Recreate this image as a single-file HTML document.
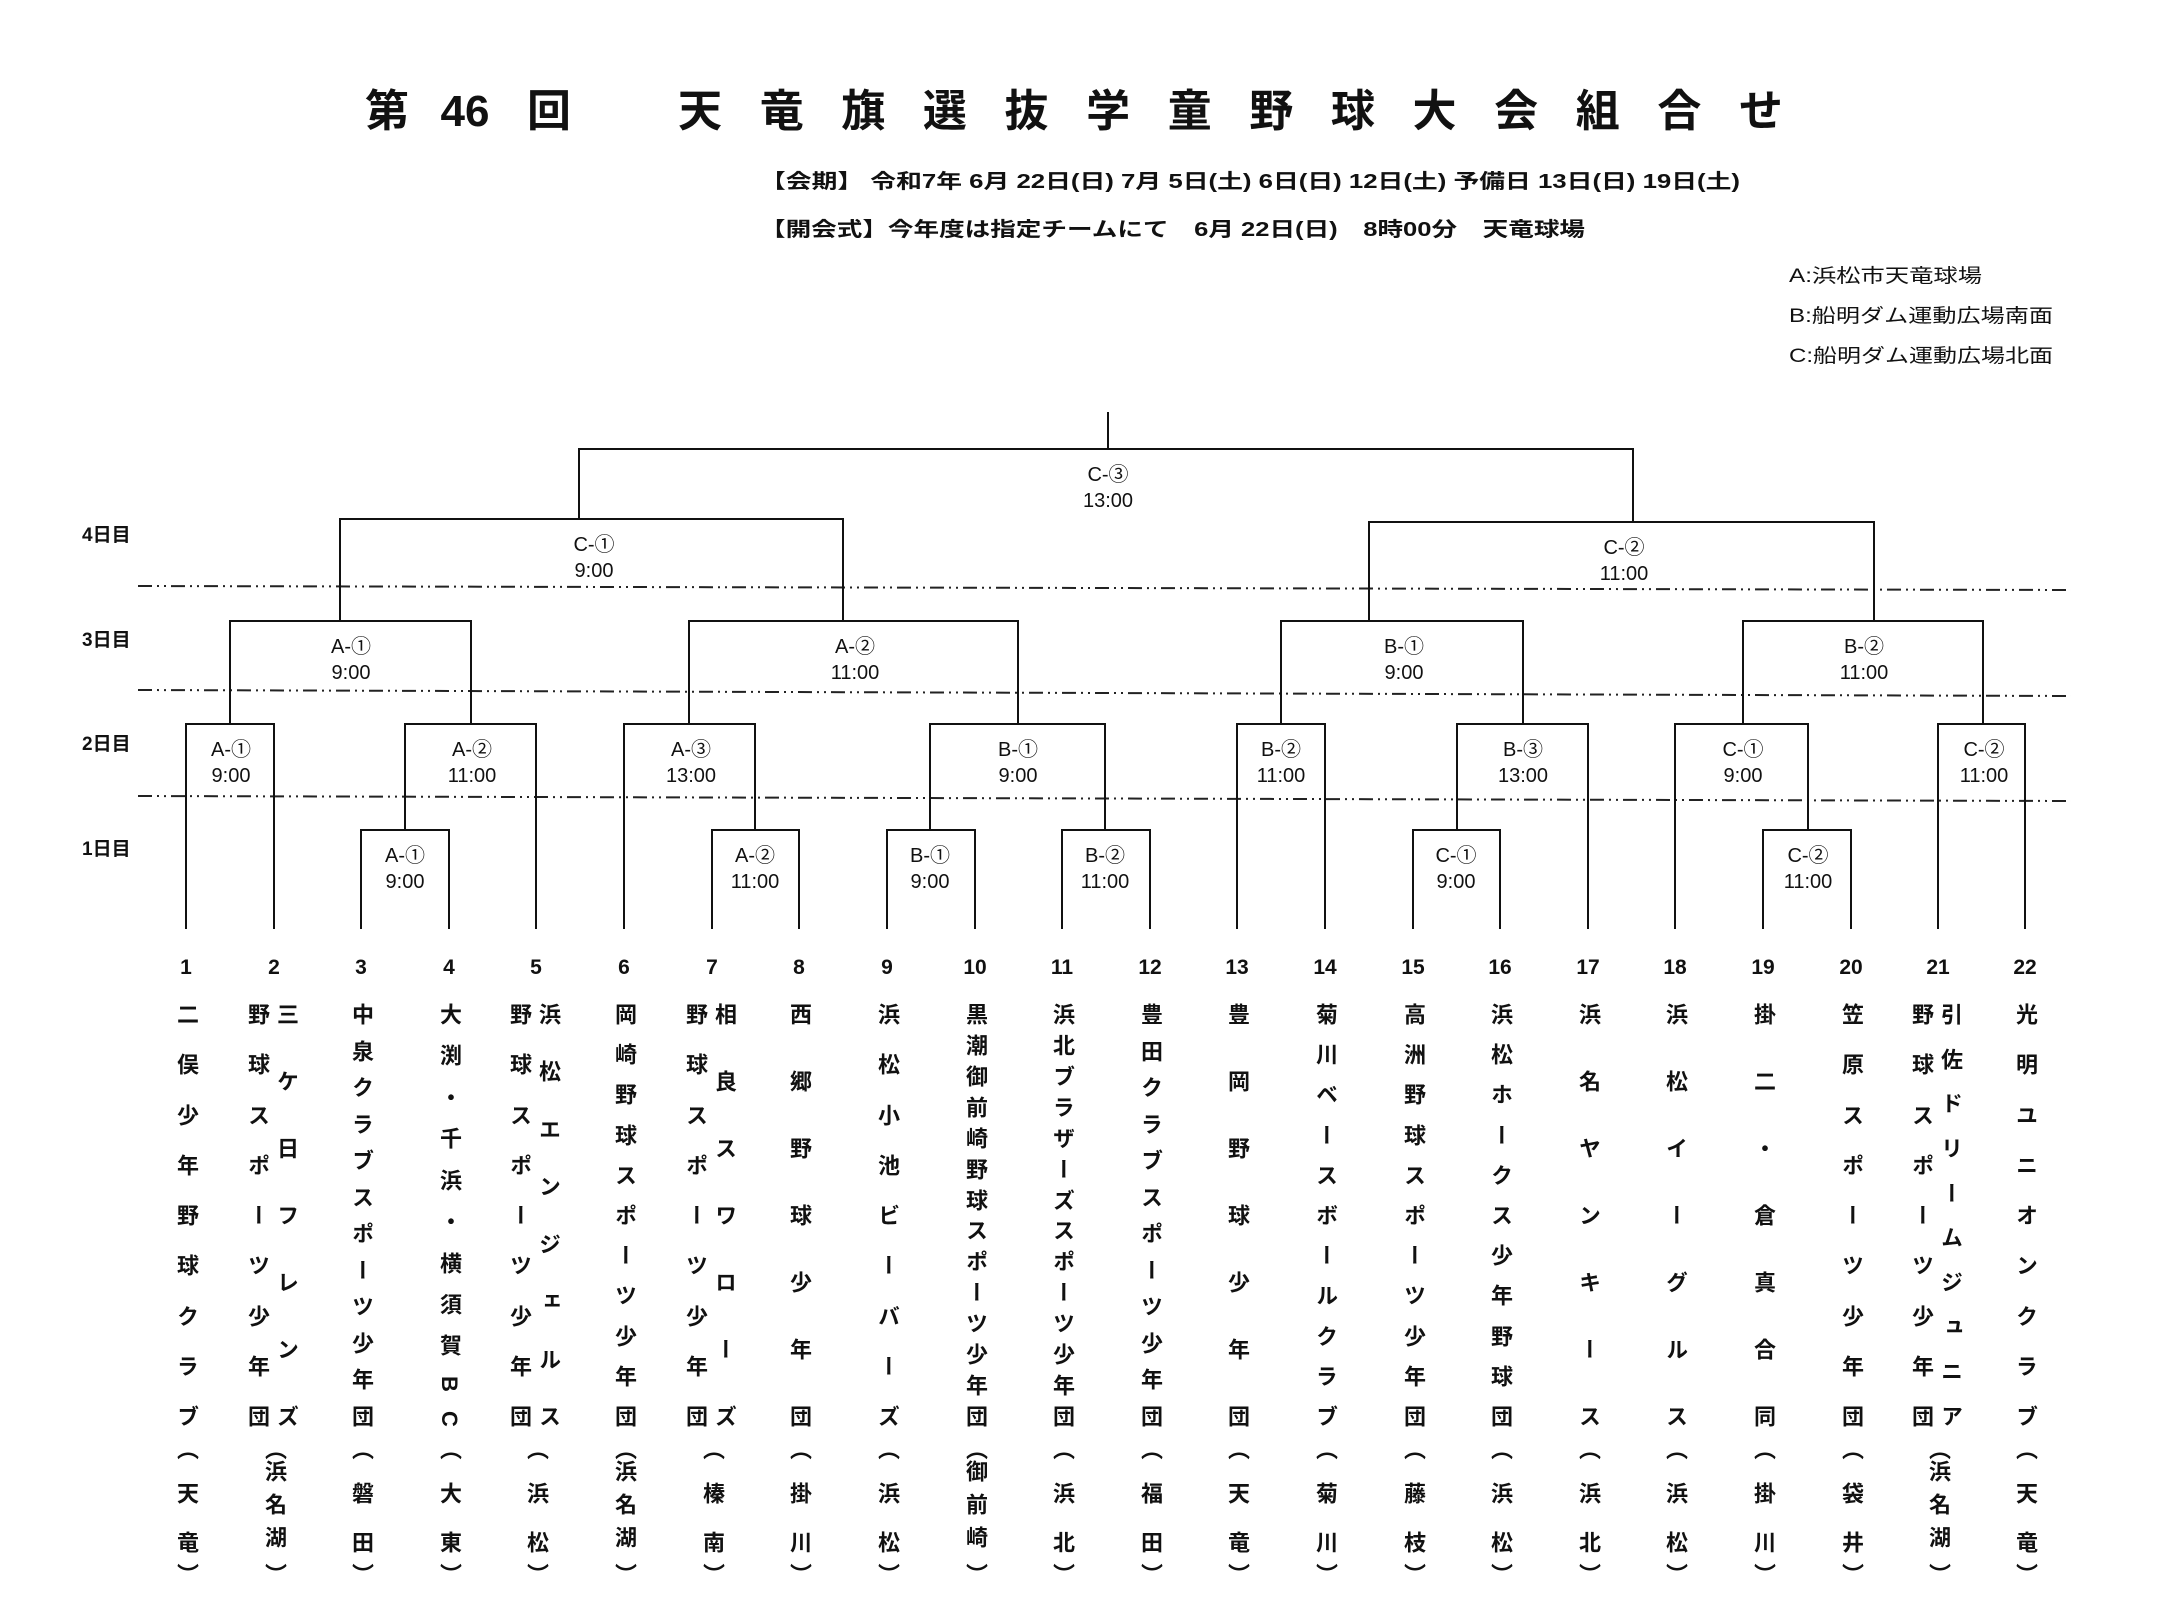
<!DOCTYPE html>
<html><head><meta charset="utf-8"><style>
html,body{margin:0;padding:0;background:#fff}
body{width:2157px;height:1624px;position:relative;overflow:hidden;font-family:"Liberation Sans","Noto Sans CJK JP",sans-serif;color:#111}
svg{position:absolute;left:0;top:0}
.n,.l,.p{position:absolute;writing-mode:vertical-rl;display:flex;justify-content:space-between;font:bold 22px "Liberation Sans","Noto Sans CJK JP",sans-serif;width:24px;line-height:24px;text-align:center}
.n{top:1003px;height:424px}
.l2{top:1482px;height:71px}
.l3{top:1460px;height:88px}
.po{top:1438px;height:22px}
.pc{top:1563px;height:22px}
</style></head><body>
<svg width="2157" height="1624" font-family="Liberation Sans, Noto Sans CJK JP, sans-serif">
<g font-weight="bold" font-size="44" fill="#111">
<text x="387" y="126" text-anchor="middle">第</text>
<text x="465" y="126" text-anchor="middle">46</text>
<text x="549" y="126" text-anchor="middle">回</text>
<text x="678" y="126" textLength="1105" lengthAdjust="spacing">天竜旗選抜学童野球大会組合せ</text>
</g>
<g font-weight="bold" font-size="20" fill="#111">
<text x="760" y="188" textLength="980" lengthAdjust="spacingAndGlyphs">【会期】 令和7年 6月 22日(日) 7月 5日(土) 6日(日) 12日(土) 予備日 13日(日) 19日(土)</text>
<text x="760" y="236" textLength="825" lengthAdjust="spacingAndGlyphs">【開会式】今年度は指定チームにて　6月 22日(日)　8時00分　天竜球場</text>
</g>
<g font-size="19" fill="#111">
<text x="1789" y="282" textLength="193" lengthAdjust="spacingAndGlyphs">A:浜松市天竜球場</text>
<text x="1789" y="322" textLength="264" lengthAdjust="spacingAndGlyphs">B:船明ダム運動広場南面</text>
<text x="1789" y="362" textLength="264" lengthAdjust="spacingAndGlyphs">C:船明ダム運動広場北面</text>
</g>
<g font-size="19" font-weight="bold" fill="#111">
<text x="82" y="541">4日目</text>
<text x="82" y="646">3日目</text>
<text x="82" y="750">2日目</text>
<text x="82" y="855">1日目</text>
</g>
<g stroke="#222" stroke-width="2" stroke-dasharray="14 5 2 5 2 5">
<line x1="138" y1="586" x2="2071" y2="590"/>
<line x1="138" y1="690" x2="2071" y2="696"/>
<line x1="138" y1="796" x2="2071" y2="801"/>
</g>
<g stroke="#111" stroke-width="2" fill="none">
<path d="M361 929V830H449V929M712 929V830H799V929M887 929V830H975V929M1062 929V830H1150V929M1413 929V830H1500V929M1763 929V830H1851V929"/>
<path d="M186 929V724H274V929M405 830V724H536V929M624 929V724H755V830M930 830V724H1105V830M1237 929V724H1325V929M1457 830V724H1588V929M1675 929V724H1808V830M1938 929V724H2025V929"/>
<path d="M230 724V621H471V724M689 724V621H1018V724M1281 724V621H1523V724M1743 724V621H1983V724"/>
<path d="M340 621V519H843V621M1369 621V522H1874V621"/>
<path d="M579 519V449H1633V522M1108 412V449"/>
</g>
<g font-size="20" fill="#111" text-anchor="middle">
<text x="405" y="862">A-①</text><text x="405" y="888">9:00</text>
<text x="755" y="862">A-②</text><text x="755" y="888">11:00</text>
<text x="930" y="862">B-①</text><text x="930" y="888">9:00</text>
<text x="1105" y="862">B-②</text><text x="1105" y="888">11:00</text>
<text x="1456" y="862">C-①</text><text x="1456" y="888">9:00</text>
<text x="1808" y="862">C-②</text><text x="1808" y="888">11:00</text>
<text x="231" y="756">A-①</text><text x="231" y="782">9:00</text>
<text x="472" y="756">A-②</text><text x="472" y="782">11:00</text>
<text x="691" y="756">A-③</text><text x="691" y="782">13:00</text>
<text x="1018" y="756">B-①</text><text x="1018" y="782">9:00</text>
<text x="1281" y="756">B-②</text><text x="1281" y="782">11:00</text>
<text x="1523" y="756">B-③</text><text x="1523" y="782">13:00</text>
<text x="1743" y="756">C-①</text><text x="1743" y="782">9:00</text>
<text x="1984" y="756">C-②</text><text x="1984" y="782">11:00</text>
<text x="351" y="653">A-①</text><text x="351" y="679">9:00</text>
<text x="855" y="653">A-②</text><text x="855" y="679">11:00</text>
<text x="1404" y="653">B-①</text><text x="1404" y="679">9:00</text>
<text x="1864" y="653">B-②</text><text x="1864" y="679">11:00</text>
<text x="594" y="551">C-①</text><text x="594" y="577">9:00</text>
<text x="1624" y="554">C-②</text><text x="1624" y="580">11:00</text>
<text x="1108" y="481">C-③</text><text x="1108" y="507">13:00</text>
</g>
<g font-size="21" font-weight="bold" fill="#111" text-anchor="middle">
<text x="186" y="974">1</text><text x="274" y="974">2</text><text x="361" y="974">3</text><text x="449" y="974">4</text><text x="536" y="974">5</text><text x="624" y="974">6</text><text x="712" y="974">7</text><text x="799" y="974">8</text><text x="887" y="974">9</text><text x="975" y="974">10</text><text x="1062" y="974">11</text><text x="1150" y="974">12</text><text x="1237" y="974">13</text><text x="1325" y="974">14</text><text x="1413" y="974">15</text><text x="1500" y="974">16</text><text x="1588" y="974">17</text><text x="1675" y="974">18</text><text x="1763" y="974">19</text><text x="1851" y="974">20</text><text x="1938" y="974">21</text><text x="2025" y="974">22</text>
</g>
</svg>

<div class="n" style="left:174px"><span>二</span><span>俣</span><span>少</span><span>年</span><span>野</span><span>球</span><span>ク</span><span>ラ</span><span>ブ</span></div>
<div class="n" style="left:245px"><span>野</span><span>球</span><span>ス</span><span>ポ</span><span>ー</span><span>ツ</span><span>少</span><span>年</span><span>団</span></div>
<div class="n" style="left:274px"><span>三</span><span>ケ</span><span>日</span><span>フ</span><span>レ</span><span>ン</span><span>ズ</span></div>
<div class="n" style="left:349px"><span>中</span><span>泉</span><span>ク</span><span>ラ</span><span>ブ</span><span>ス</span><span>ポ</span><span>ー</span><span>ツ</span><span>少</span><span>年</span><span>団</span></div>
<div class="n" style="left:437px"><span>大</span><span>渕</span><span>・</span><span>千</span><span>浜</span><span>・</span><span>横</span><span>須</span><span>賀</span><span>B</span><span>C</span></div>
<div class="n" style="left:507px"><span>野</span><span>球</span><span>ス</span><span>ポ</span><span>ー</span><span>ツ</span><span>少</span><span>年</span><span>団</span></div>
<div class="n" style="left:536px"><span>浜</span><span>松</span><span>エ</span><span>ン</span><span>ジ</span><span>ェ</span><span>ル</span><span>ス</span></div>
<div class="n" style="left:612px"><span>岡</span><span>崎</span><span>野</span><span>球</span><span>ス</span><span>ポ</span><span>ー</span><span>ツ</span><span>少</span><span>年</span><span>団</span></div>
<div class="n" style="left:683px"><span>野</span><span>球</span><span>ス</span><span>ポ</span><span>ー</span><span>ツ</span><span>少</span><span>年</span><span>団</span></div>
<div class="n" style="left:712px"><span>相</span><span>良</span><span>ス</span><span>ワ</span><span>ロ</span><span>ー</span><span>ズ</span></div>
<div class="n" style="left:787px"><span>西</span><span>郷</span><span>野</span><span>球</span><span>少</span><span>年</span><span>団</span></div>
<div class="n" style="left:875px"><span>浜</span><span>松</span><span>小</span><span>池</span><span>ビ</span><span>ー</span><span>バ</span><span>ー</span><span>ズ</span></div>
<div class="n" style="left:963px"><span>黒</span><span>潮</span><span>御</span><span>前</span><span>崎</span><span>野</span><span>球</span><span>ス</span><span>ポ</span><span>ー</span><span>ツ</span><span>少</span><span>年</span><span>団</span></div>
<div class="n" style="left:1050px"><span>浜</span><span>北</span><span>ブ</span><span>ラ</span><span>ザ</span><span>ー</span><span>ズ</span><span>ス</span><span>ポ</span><span>ー</span><span>ツ</span><span>少</span><span>年</span><span>団</span></div>
<div class="n" style="left:1138px"><span>豊</span><span>田</span><span>ク</span><span>ラ</span><span>ブ</span><span>ス</span><span>ポ</span><span>ー</span><span>ツ</span><span>少</span><span>年</span><span>団</span></div>
<div class="n" style="left:1225px"><span>豊</span><span>岡</span><span>野</span><span>球</span><span>少</span><span>年</span><span>団</span></div>
<div class="n" style="left:1313px"><span>菊</span><span>川</span><span>ベ</span><span>ー</span><span>ス</span><span>ボ</span><span>ー</span><span>ル</span><span>ク</span><span>ラ</span><span>ブ</span></div>
<div class="n" style="left:1401px"><span>高</span><span>洲</span><span>野</span><span>球</span><span>ス</span><span>ポ</span><span>ー</span><span>ツ</span><span>少</span><span>年</span><span>団</span></div>
<div class="n" style="left:1488px"><span>浜</span><span>松</span><span>ホ</span><span>ー</span><span>ク</span><span>ス</span><span>少</span><span>年</span><span>野</span><span>球</span><span>団</span></div>
<div class="n" style="left:1576px"><span>浜</span><span>名</span><span>ヤ</span><span>ン</span><span>キ</span><span>ー</span><span>ス</span></div>
<div class="n" style="left:1663px"><span>浜</span><span>松</span><span>イ</span><span>ー</span><span>グ</span><span>ル</span><span>ス</span></div>
<div class="n" style="left:1751px"><span>掛</span><span>二</span><span>・</span><span>倉</span><span>真</span><span>合</span><span>同</span></div>
<div class="n" style="left:1839px"><span>笠</span><span>原</span><span>ス</span><span>ポ</span><span>ー</span><span>ツ</span><span>少</span><span>年</span><span>団</span></div>
<div class="n" style="left:1909px"><span>野</span><span>球</span><span>ス</span><span>ポ</span><span>ー</span><span>ツ</span><span>少</span><span>年</span><span>団</span></div>
<div class="n" style="left:1938px"><span>引</span><span>佐</span><span>ド</span><span>リ</span><span>ー</span><span>ム</span><span>ジ</span><span>ュ</span><span>ニ</span><span>ア</span></div>
<div class="n" style="left:2013px"><span>光</span><span>明</span><span>ユ</span><span>ニ</span><span>オ</span><span>ン</span><span>ク</span><span>ラ</span><span>ブ</span></div>

<div class="p po" style="left:174px">（</div><div class="p pc" style="left:174px">）</div>
<div class="p po" style="left:262px">（</div><div class="p pc" style="left:262px">）</div>
<div class="p po" style="left:349px">（</div><div class="p pc" style="left:349px">）</div>
<div class="p po" style="left:437px">（</div><div class="p pc" style="left:437px">）</div>
<div class="p po" style="left:524px">（</div><div class="p pc" style="left:524px">）</div>
<div class="p po" style="left:612px">（</div><div class="p pc" style="left:612px">）</div>
<div class="p po" style="left:700px">（</div><div class="p pc" style="left:700px">）</div>
<div class="p po" style="left:787px">（</div><div class="p pc" style="left:787px">）</div>
<div class="p po" style="left:875px">（</div><div class="p pc" style="left:875px">）</div>
<div class="p po" style="left:963px">（</div><div class="p pc" style="left:963px">）</div>
<div class="p po" style="left:1050px">（</div><div class="p pc" style="left:1050px">）</div>
<div class="p po" style="left:1138px">（</div><div class="p pc" style="left:1138px">）</div>
<div class="p po" style="left:1225px">（</div><div class="p pc" style="left:1225px">）</div>
<div class="p po" style="left:1313px">（</div><div class="p pc" style="left:1313px">）</div>
<div class="p po" style="left:1401px">（</div><div class="p pc" style="left:1401px">）</div>
<div class="p po" style="left:1488px">（</div><div class="p pc" style="left:1488px">）</div>
<div class="p po" style="left:1576px">（</div><div class="p pc" style="left:1576px">）</div>
<div class="p po" style="left:1663px">（</div><div class="p pc" style="left:1663px">）</div>
<div class="p po" style="left:1751px">（</div><div class="p pc" style="left:1751px">）</div>
<div class="p po" style="left:1839px">（</div><div class="p pc" style="left:1839px">）</div>
<div class="p po" style="left:1926px">（</div><div class="p pc" style="left:1926px">）</div>
<div class="p po" style="left:2013px">（</div><div class="p pc" style="left:2013px">）</div>

<div class="l l2" style="left:174px"><span>天</span><span>竜</span></div>
<div class="l l3" style="left:262px"><span>浜</span><span>名</span><span>湖</span></div>
<div class="l l2" style="left:349px"><span>磐</span><span>田</span></div>
<div class="l l2" style="left:437px"><span>大</span><span>東</span></div>
<div class="l l2" style="left:524px"><span>浜</span><span>松</span></div>
<div class="l l3" style="left:612px"><span>浜</span><span>名</span><span>湖</span></div>
<div class="l l2" style="left:700px"><span>榛</span><span>南</span></div>
<div class="l l2" style="left:787px"><span>掛</span><span>川</span></div>
<div class="l l2" style="left:875px"><span>浜</span><span>松</span></div>
<div class="l l3" style="left:963px"><span>御</span><span>前</span><span>崎</span></div>
<div class="l l2" style="left:1050px"><span>浜</span><span>北</span></div>
<div class="l l2" style="left:1138px"><span>福</span><span>田</span></div>
<div class="l l2" style="left:1225px"><span>天</span><span>竜</span></div>
<div class="l l2" style="left:1313px"><span>菊</span><span>川</span></div>
<div class="l l2" style="left:1401px"><span>藤</span><span>枝</span></div>
<div class="l l2" style="left:1488px"><span>浜</span><span>松</span></div>
<div class="l l2" style="left:1576px"><span>浜</span><span>北</span></div>
<div class="l l2" style="left:1663px"><span>浜</span><span>松</span></div>
<div class="l l2" style="left:1751px"><span>掛</span><span>川</span></div>
<div class="l l2" style="left:1839px"><span>袋</span><span>井</span></div>
<div class="l l3" style="left:1926px"><span>浜</span><span>名</span><span>湖</span></div>
<div class="l l2" style="left:2013px"><span>天</span><span>竜</span></div>
</body></html>
